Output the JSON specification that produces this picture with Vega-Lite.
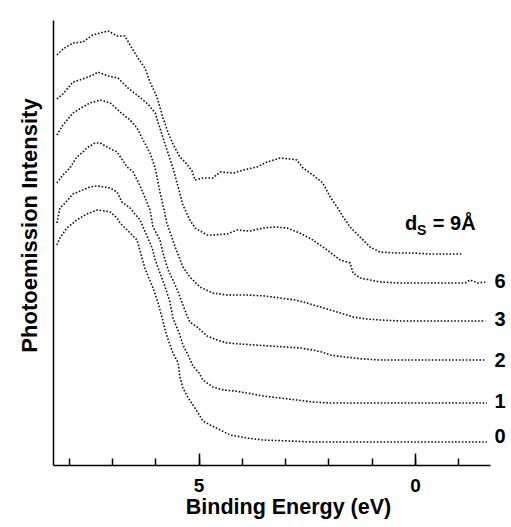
{
  "$schema": "https://vega.github.io/schema/vega-lite/v6.json",
  "width": 437,
  "height": 445,
  "autosize": {"type": "none"},
  "padding": {"left": 53, "top": 20, "right": 21, "bottom": 62},
  "background": "white",
  "config": {"view": {"stroke": null}, "font": "Liberation Sans"},
  "datasets": {
    "curves": [
      {"s":"9","e":8.27,"i":410},{"s":"9","e":8.13,"i":416},{"s":"9","e":7.90,"i":422},{"s":"9","e":7.67,"i":423},{"s":"9","e":7.44,"i":430},{"s":"9","e":7.27,"i":432},{"s":"9","e":7.09,"i":434},{"s":"9","e":6.88,"i":429},{"s":"9","e":6.70,"i":429},{"s":"9","e":6.58,"i":420},{"s":"9","e":6.40,"i":407},{"s":"9","e":6.24,"i":397},{"s":"9","e":6.12,"i":383},{"s":"9","e":5.96,"i":368},{"s":"9","e":5.82,"i":347},{"s":"9","e":5.70,"i":332},{"s":"9","e":5.59,"i":321},{"s":"9","e":5.43,"i":308},{"s":"9","e":5.29,"i":302},{"s":"9","e":5.15,"i":294},{"s":"9","e":5.08,"i":285},{"s":"9","e":4.90,"i":287},{"s":"9","e":4.67,"i":287},{"s":"9","e":4.50,"i":293},{"s":"9","e":4.20,"i":292},{"s":"9","e":3.97,"i":295},{"s":"9","e":3.65,"i":298},{"s":"9","e":3.42,"i":303},{"s":"9","e":3.12,"i":307},{"s":"9","e":2.89,"i":306},{"s":"9","e":2.73,"i":305},{"s":"9","e":2.59,"i":297},{"s":"9","e":2.36,"i":290},{"s":"9","e":2.13,"i":282},{"s":"9","e":1.96,"i":268},{"s":"9","e":1.80,"i":258},{"s":"9","e":1.66,"i":248},{"s":"9","e":1.50,"i":238},{"s":"9","e":1.27,"i":228},{"s":"9","e":1.04,"i":218},{"s":"9","e":0.81,"i":213},{"s":"9","e":0.42,"i":212},{"s":"9","e":0.05,"i":212},{"s":"9","e":-0.35,"i":211},{"s":"9","e":-0.74,"i":211},{"s":"9","e":-1.11,"i":211},
      {"s":"6","e":8.27,"i":366},{"s":"6","e":8.13,"i":371},{"s":"6","e":7.90,"i":383},{"s":"6","e":7.67,"i":386},{"s":"6","e":7.44,"i":390},{"s":"6","e":7.32,"i":393},{"s":"6","e":7.09,"i":389},{"s":"6","e":6.86,"i":387},{"s":"6","e":6.63,"i":377},{"s":"6","e":6.42,"i":370},{"s":"6","e":6.17,"i":361},{"s":"6","e":6.00,"i":352},{"s":"6","e":5.82,"i":327},{"s":"6","e":5.59,"i":297},{"s":"6","e":5.47,"i":278},{"s":"6","e":5.36,"i":260},{"s":"6","e":5.20,"i":245},{"s":"6","e":5.08,"i":237},{"s":"6","e":4.80,"i":230},{"s":"6","e":4.67,"i":230},{"s":"6","e":4.34,"i":231},{"s":"6","e":4.11,"i":235},{"s":"6","e":3.81,"i":234},{"s":"6","e":3.51,"i":237},{"s":"6","e":3.23,"i":238},{"s":"6","e":2.96,"i":237},{"s":"6","e":2.66,"i":232},{"s":"6","e":2.36,"i":225},{"s":"6","e":2.03,"i":215},{"s":"6","e":1.73,"i":205},{"s":"6","e":1.50,"i":202},{"s":"6","e":1.43,"i":192},{"s":"6","e":1.27,"i":187},{"s":"6","e":0.81,"i":183},{"s":"6","e":0.35,"i":182},{"s":"6","e":0.05,"i":182},{"s":"6","e":-0.35,"i":182},{"s":"6","e":-0.74,"i":182},{"s":"6","e":-1.15,"i":182},{"s":"6","e":-1.27,"i":185},{"s":"6","e":-1.45,"i":182},{"s":"6","e":-1.62,"i":183},
      {"s":"3","e":8.27,"i":330},{"s":"3","e":8.13,"i":340},{"s":"3","e":7.90,"i":352},{"s":"3","e":7.67,"i":358},{"s":"3","e":7.51,"i":362},{"s":"3","e":7.27,"i":365},{"s":"3","e":7.04,"i":362},{"s":"3","e":6.81,"i":353},{"s":"3","e":6.58,"i":345},{"s":"3","e":6.42,"i":337},{"s":"3","e":6.28,"i":325},{"s":"3","e":6.12,"i":312},{"s":"3","e":6.00,"i":297},{"s":"3","e":5.89,"i":273},{"s":"3","e":5.73,"i":242},{"s":"3","e":5.54,"i":218},{"s":"3","e":5.36,"i":198},{"s":"3","e":5.20,"i":188},{"s":"3","e":4.97,"i":178},{"s":"3","e":4.67,"i":172},{"s":"3","e":4.34,"i":170},{"s":"3","e":3.88,"i":170},{"s":"3","e":3.46,"i":169},{"s":"3","e":3.12,"i":167},{"s":"3","e":2.77,"i":165},{"s":"3","e":2.49,"i":162},{"s":"3","e":2.19,"i":158},{"s":"3","e":1.96,"i":155},{"s":"3","e":1.73,"i":152},{"s":"3","e":1.43,"i":148},{"s":"3","e":1.11,"i":146},{"s":"3","e":0.81,"i":145},{"s":"3","e":0.35,"i":144},{"s":"3","e":0.05,"i":144},{"s":"3","e":-0.35,"i":144},{"s":"3","e":-0.74,"i":144},{"s":"3","e":-1.15,"i":144},{"s":"3","e":-1.62,"i":144},
      {"s":"2","e":8.27,"i":282},{"s":"2","e":8.13,"i":290},{"s":"2","e":7.97,"i":297},{"s":"2","e":7.81,"i":308},{"s":"2","e":7.67,"i":313},{"s":"2","e":7.58,"i":317},{"s":"2","e":7.39,"i":322},{"s":"2","e":7.27,"i":322},{"s":"2","e":7.11,"i":318},{"s":"2","e":6.98,"i":315},{"s":"2","e":6.88,"i":313},{"s":"2","e":6.65,"i":298},{"s":"2","e":6.51,"i":293},{"s":"2","e":6.35,"i":279},{"s":"2","e":6.24,"i":268},{"s":"2","e":6.12,"i":255},{"s":"2","e":6.05,"i":238},{"s":"2","e":5.89,"i":225},{"s":"2","e":5.82,"i":212},{"s":"2","e":5.70,"i":195},{"s":"2","e":5.59,"i":185},{"s":"2","e":5.47,"i":173},{"s":"2","e":5.36,"i":160},{"s":"2","e":5.27,"i":150},{"s":"2","e":5.20,"i":143},{"s":"2","e":5.03,"i":138},{"s":"2","e":4.80,"i":129},{"s":"2","e":4.57,"i":125},{"s":"2","e":4.34,"i":122},{"s":"2","e":4.04,"i":121},{"s":"2","e":3.70,"i":120},{"s":"2","e":3.35,"i":119},{"s":"2","e":3.00,"i":118},{"s":"2","e":2.66,"i":117},{"s":"2","e":2.36,"i":115},{"s":"2","e":2.15,"i":113},{"s":"2","e":1.96,"i":110},{"s":"2","e":1.62,"i":108},{"s":"2","e":1.20,"i":106},{"s":"2","e":0.81,"i":105},{"s":"2","e":0.35,"i":105},{"s":"2","e":0.05,"i":105},{"s":"2","e":-0.35,"i":105},{"s":"2","e":-0.81,"i":105},{"s":"2","e":-1.27,"i":105},{"s":"2","e":-1.62,"i":105},
      {"s":"1","e":8.27,"i":242},{"s":"1","e":8.20,"i":257},{"s":"1","e":8.08,"i":262},{"s":"1","e":7.90,"i":271},{"s":"1","e":7.67,"i":275},{"s":"1","e":7.51,"i":278},{"s":"1","e":7.34,"i":279},{"s":"1","e":7.04,"i":277},{"s":"1","e":6.88,"i":273},{"s":"1","e":6.77,"i":263},{"s":"1","e":6.58,"i":257},{"s":"1","e":6.47,"i":251},{"s":"1","e":6.35,"i":245},{"s":"1","e":6.17,"i":227},{"s":"1","e":6.07,"i":217},{"s":"1","e":6.00,"i":205},{"s":"1","e":5.89,"i":192},{"s":"1","e":5.77,"i":178},{"s":"1","e":5.66,"i":163},{"s":"1","e":5.59,"i":147},{"s":"1","e":5.43,"i":130},{"s":"1","e":5.36,"i":120},{"s":"1","e":5.24,"i":110},{"s":"1","e":5.13,"i":99},{"s":"1","e":4.97,"i":91},{"s":"1","e":4.90,"i":85},{"s":"1","e":4.67,"i":78},{"s":"1","e":4.43,"i":75},{"s":"1","e":4.16,"i":74},{"s":"1","e":3.88,"i":72},{"s":"1","e":3.51,"i":69},{"s":"1","e":3.12,"i":67},{"s":"1","e":2.73,"i":65},{"s":"1","e":2.36,"i":63},{"s":"1","e":1.96,"i":62},{"s":"1","e":1.57,"i":62},{"s":"1","e":0.81,"i":62},{"s":"1","e":0.05,"i":62},{"s":"1","e":-0.81,"i":62},{"s":"1","e":-1.66,"i":62},
      {"s":"0","e":8.27,"i":220},{"s":"0","e":8.20,"i":227},{"s":"0","e":8.04,"i":237},{"s":"0","e":7.81,"i":245},{"s":"0","e":7.58,"i":251},{"s":"0","e":7.34,"i":255},{"s":"0","e":7.16,"i":254},{"s":"0","e":7.04,"i":253},{"s":"0","e":6.88,"i":247},{"s":"0","e":6.81,"i":242},{"s":"0","e":6.58,"i":232},{"s":"0","e":6.42,"i":225},{"s":"0","e":6.31,"i":208},{"s":"0","e":6.24,"i":197},{"s":"0","e":6.05,"i":177},{"s":"0","e":5.94,"i":163},{"s":"0","e":5.84,"i":147},{"s":"0","e":5.77,"i":135},{"s":"0","e":5.70,"i":125},{"s":"0","e":5.59,"i":112},{"s":"0","e":5.47,"i":102},{"s":"0","e":5.43,"i":88},{"s":"0","e":5.36,"i":77},{"s":"0","e":5.24,"i":67},{"s":"0","e":5.13,"i":60},{"s":"0","e":5.01,"i":52},{"s":"0","e":4.90,"i":44},{"s":"0","e":4.73,"i":40},{"s":"0","e":4.50,"i":35},{"s":"0","e":4.27,"i":30},{"s":"0","e":3.88,"i":27},{"s":"0","e":3.51,"i":25},{"s":"0","e":2.89,"i":24},{"s":"0","e":2.36,"i":23},{"s":"0","e":1.50,"i":23},{"s":"0","e":0.81,"i":23},{"s":"0","e":0.05,"i":23},{"s":"0","e":-0.81,"i":23},{"s":"0","e":-1.66,"i":23}
    ],
    "labels": [
      {"t":"0","e":-1.96,"i":28},
      {"t":"1","e":-1.96,"i":63},
      {"t":"2","e":-1.96,"i":104},
      {"t":"3","e":-1.96,"i":145},
      {"t":"6","e":-1.96,"i":183}
    ],
    "dlabel": [{"t":"d","e":0.09,"i":235}],
    "slabel": [{"t":"S","e":-0.15,"i":230}],
    "eqlabel": [{"t":"= 9Å","e":-0.41,"i":235}]
  },
  "resolve": {"axis": {"x": "independent", "y": "independent"}},
  "layer": [
    {
      "data": {"name": "curves"},
      "mark": {"type": "line", "color": "#111111", "strokeWidth": 1.6, "strokeDash": [1.6, 1.8], "interpolate": "linear"},
      "encoding": {
        "x": {"field": "e", "type": "quantitative",
              "scale": {"domain": [-1.73, 8.36], "reverse": true, "nice": false, "zero": false},
              "axis": {"orient": "bottom", "offset": -7, "values": [-1,0,1,2,3,4,5,6,7,8], "tickSize": 7, "tickWidth": 1.5, "tickColor": "black",
                       "domain": false, "labels": false, "title": null, "grid": false}},
        "y": {"field": "i", "type": "quantitative",
              "scale": {"domain": [0, 445], "nice": false, "zero": false},
              "axis": {"orient": "left", "domain": true, "domainColor": "black", "domainWidth": 1.5, "ticks": false, "labels": false, "grid": false,
                       "title": "Photoemission Intensity", "titleFont": "Liberation Sans", "titleFontWeight": "bold", "titleFontSize": 22,
                       "titleColor": "black", "titleX": -24, "titleY": 205, "titleAngle": 270, "titleAlign": "center", "titleBaseline": "middle"}},
        "detail": {"field": "s"}
      }
    },
    {
      "data": {"name": "labels"},
      "mark": {"type": "text", "font": "Liberation Sans", "fontWeight": "bold", "fontSize": 20, "color": "black", "align": "center", "baseline": "middle"},
      "encoding": {
        "x": {"field": "e", "type": "quantitative",
              "axis": {"orient": "bottom", "offset": -12, "values": [5, 0], "tickSize": 12, "tickWidth": 1.5, "tickColor": "black", "domain": false, "grid": false,
                       "labelFont": "Liberation Sans", "labelFontWeight": "bold", "labelFontSize": 19, "labelColor": "black", "labelPadding": 20, "labelBaseline": "middle",
                       "title": "Binding Energy (eV)", "titleFont": "Liberation Sans", "titleFontWeight": "bold", "titleFontSize": 21.5, "titleColor": "black",
                       "titleX": 235, "titleY": 54, "titleAlign": "center", "titleBaseline": "middle"}},
        "y": {"field": "i", "type": "quantitative", "axis": null},
        "text": {"field": "t"}
      }
    },
    {
      "data": {"name": "dlabel"},
      "mark": {"type": "text", "font": "Liberation Sans", "fontWeight": "bold", "fontSize": 20, "color": "black", "align": "center", "baseline": "alphabetic"},
      "encoding": {
        "x": {"field": "e", "type": "quantitative",
              "axis": {"orient": "bottom", "domain": true, "domainColor": "black", "domainWidth": 1.5, "ticks": false, "labels": false, "grid": false, "title": null}},
        "y": {"field": "i", "type": "quantitative", "axis": null},
        "text": {"field": "t"}
      }
    },
    {
      "data": {"name": "slabel"},
      "mark": {"type": "text", "font": "Liberation Sans", "fontWeight": "bold", "fontSize": 14, "color": "black", "align": "center", "baseline": "alphabetic"},
      "encoding": {
        "x": {"field": "e", "type": "quantitative", "axis": null},
        "y": {"field": "i", "type": "quantitative", "axis": null},
        "text": {"field": "t"}
      }
    },
    {
      "data": {"name": "eqlabel"},
      "mark": {"type": "text", "font": "Liberation Sans", "fontWeight": "bold", "fontSize": 20, "color": "black", "align": "left", "baseline": "alphabetic"},
      "encoding": {
        "x": {"field": "e", "type": "quantitative", "axis": null},
        "y": {"field": "i", "type": "quantitative", "axis": null},
        "text": {"field": "t"}
      }
    }
  ]
}
